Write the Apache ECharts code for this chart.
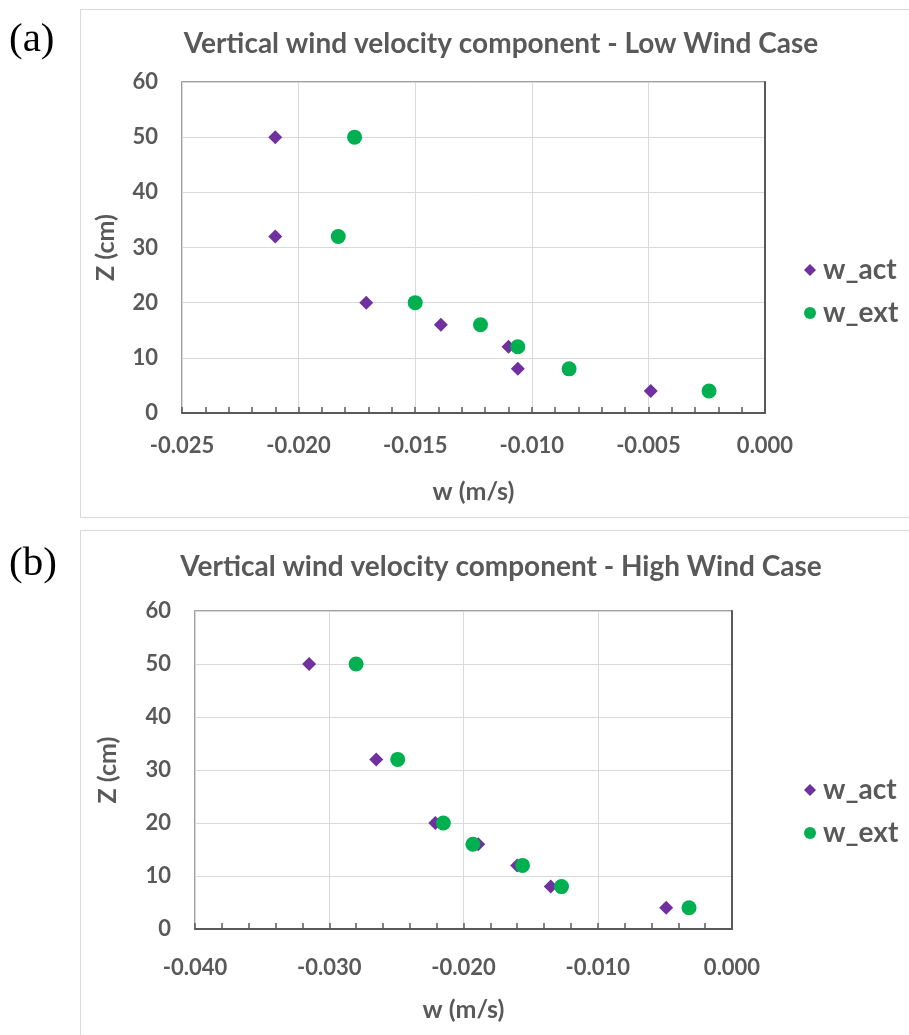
<!DOCTYPE html>
<html>
<head>
<meta charset="utf-8">
<script src="https://cdn.jsdelivr.net/npm/echarts@6/dist/echarts.min.js"></script>
<style>
html,body{margin:0;padding:0;background:#fff;}
#c{width:909px;height:1035px;}
</style>
</head>
<body>
<div id="c"></div>
<script>
// ---- data ----
const heights = [50, 32, 20, 16, 12, 8, 4];
const lowAct  = [-0.0210, -0.0210, -0.0171, -0.0139, -0.0110, -0.0106, -0.0049];
const lowExt  = [-0.0176, -0.0183, -0.0150, -0.0122, -0.0106, -0.0084, -0.0024];
const highAct = [-0.0315, -0.0265, -0.0221, -0.0189, -0.0160, -0.0135, -0.0049];
const highExt = [-0.0280, -0.0249, -0.0215, -0.0193, -0.0156, -0.0127, -0.0032];
const titles = ['Vertical wind velocity component - Low Wind Case',
                'Vertical wind velocity component - High Wind Case'];
const panelLabels = ['(a)', '(b)'];
const seriesNames = ['w_act', 'w_ext'];

const pairs = (xs, ys) => xs.map((x, i) => [x, ys[i]]);
const C_ACT = '#7030A0', C_EXT = '#00B050', TXT = '#595959';
const FONT = 'Lato';

function xAxis(gi, min, interval, split, margin, gap) {
  return {
    gridIndex: gi, type: 'value', min: min, max: 0, interval: interval,
    name: 'w (m/s)', nameLocation: 'middle', nameGap: gap,
    nameTextStyle: {color: TXT, fontFamily: FONT, fontWeight: 'bold', fontSize: 25},
    axisLine: {show: true, onZero: false, lineStyle: {color: '#595959', width: 2}},
    axisTick: {show: true, inside: true, length: 6, lineStyle: {color: '#595959', width: 1.5}},
    minorTick: {show: true, splitNumber: split, length: 6, lineStyle: {color: '#595959', width: 1.5}},
    axisLabel: {color: TXT, fontFamily: FONT, fontWeight: 'bold', fontSize: 22, margin: margin,
      formatter: v => Math.abs(v) < 1e-9 ? '0.000' : v.toFixed(3)},
    splitLine: {show: true, lineStyle: {color: '#d9d9d9', width: 1}}
  };
}
function yAxis(gi, gap) {
  return {
    gridIndex: gi, type: 'value', min: 0, max: 60, interval: 10,
    name: 'Z (cm)', nameLocation: 'middle', nameGap: gap, nameRotate: 90,
    nameTextStyle: {color: TXT, fontFamily: FONT, fontWeight: 'bold', fontSize: 25},
    axisLine: {show: true, lineStyle: {color: '#595959', width: 2}},
    axisTick: {show: false},
    axisLabel: {color: TXT, fontFamily: FONT, fontWeight: 'bold', fontSize: 22, margin: 24},
    splitLine: {show: true, lineStyle: {color: '#d9d9d9', width: 1}}
  };
}
function legend(top) {
  return {
    orient: 'vertical', left: 799, top: top, itemGap: 15,
    itemWidth: 12, itemHeight: 12, selectedMode: false,
    textStyle: {color: TXT, fontFamily: FONT, fontWeight: 'bold', fontSize: 28, padding: [0,0,0,2]},
    data: [{name: seriesNames[0], icon: 'diamond', itemStyle: {color: C_ACT}},
           {name: seriesNames[1], icon: 'circle', itemStyle: {color: C_EXT}}]
  };
}
function sc(name, gi, data, sym, size, color) {
  return {name: name, type: 'scatter', xAxisIndex: gi, yAxisIndex: gi,
    data: data, symbol: sym, symbolSize: size, itemStyle: {color: color, opacity: 1}};
}

const chart = echarts.init(document.getElementById('c'), null, {renderer: 'canvas'});
chart.setOption({
  backgroundColor: '#fff',
  animation: false,
  title: [
    {text: titles[0], left: 496, top: 25, textAlign: 'center',
     textStyle: {color: TXT, fontFamily: FONT, fontWeight: 'bold', fontSize: 28}},
    {text: titles[1], left: 496, top: 548, textAlign: 'center',
     textStyle: {color: TXT, fontFamily: FONT, fontWeight: 'bold', fontSize: 28}}
  ],
  graphic: [
    {type: 'rect', shape: {x: 80.5, y: 9.5, width: 840, height: 508}, z: -10,
     style: {fill: '#fff', stroke: '#d9d9d9', lineWidth: 1}},
    {type: 'rect', shape: {x: 80.5, y: 530.5, width: 840, height: 520}, z: -10,
     style: {fill: '#fff', stroke: '#d9d9d9', lineWidth: 1}},
    {type: 'text', left: 9, top: 20, style: {text: panelLabels[0], fill: '#000',
      font: '41px "Liberation Serif", "DejaVu Serif", serif'}},
    {type: 'text', left: 9, top: 544, style: {text: panelLabels[1], fill: '#000',
      font: '41px "Liberation Serif", "DejaVu Serif", serif'}}
  ],
  grid: [
    {left: 182, top: 82, width: 583, height: 331, show: true, borderColor: '#808080', borderWidth: 1.5},
    {left: 195, top: 611, width: 537, height: 318, show: true, borderColor: '#808080', borderWidth: 1.5}
  ],
  xAxis: [xAxis(0, -0.025, 0.005, 5, 22, 66), xAxis(1, -0.040, 0.010, 5, 28, 68)],
  yAxis: [yAxis(0, 64), yAxis(1, 75)],
  legend: [legend(251), legend(771)],
  series: [
    sc(seriesNames[0], 0, pairs(lowAct, heights), 'diamond', 14, C_ACT),
    sc(seriesNames[1], 0, pairs(lowExt, heights), 'circle', 15, C_EXT),
    sc(seriesNames[0], 1, pairs(highAct, heights), 'diamond', 14, C_ACT),
    sc(seriesNames[1], 1, pairs(highExt, heights), 'circle', 15, C_EXT)
  ]
});
</script>
</body>
</html>
